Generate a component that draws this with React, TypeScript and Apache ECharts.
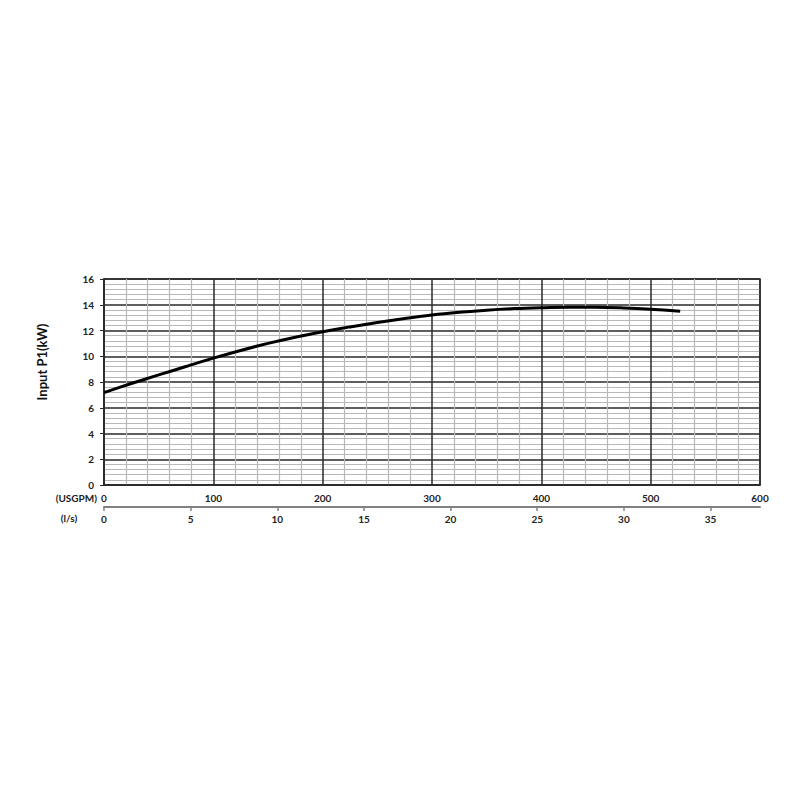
import React, { useEffect, useRef } from "react";
import * as echarts from "echarts";

const flowUSGPM = [0, 25, 50, 75, 100, 125, 150, 175, 200, 225, 250, 275, 300, 325, 350, 375, 400, 425, 450, 475, 500, 527];
const powerKW = [7.18, 7.88, 8.55, 9.2, 9.85, 10.45, 11.0, 11.48, 11.9, 12.28, 12.62, 12.93, 13.2, 13.41, 13.58, 13.7, 13.77, 13.81, 13.81, 13.75, 13.65, 13.5];
const lsTicks = [0, 5, 10, 15, 20, 25, 30, 35];
const USGPM_PER_LS = 15.8503;
const yTitle = "Input P1(kW)";
const unitTop = "(USGPM)";
const unitBottom = "(l/s)";

const FONT = "Lato, 'Open Sans', 'Liberation Sans', sans-serif";

export default function App() {
  const ref = useRef<HTMLDivElement>(null);
  useEffect(() => {
    document.body.style.margin = "0";
    const chart = echarts.init(ref.current!, null, { renderer: "svg" });
    const data = flowUSGPM.map((q, i) => [q, powerKW[i]]);
    chart.setOption({
      animation: false,
      backgroundColor: "#ffffff",
      textStyle: { fontFamily: FONT },
      grid: {
        left: 104,
        right: 40,
        top: 279,
        bottom: 315,
        show: true,
        borderColor: "#2a2a2a",
        borderWidth: 1.5,
      },
      xAxis: [
        {
          type: "value",
          position: "bottom",
          min: 0,
          max: 600,
          interval: 100,
          axisLine: { show: true, lineStyle: { color: "#2a2a2a", width: 1.5 } },
          axisTick: { show: false },
          axisLabel: { margin: 8, fontSize: 10, fontWeight: "bold", color: "#222", fontFamily: FONT },
          splitLine: { show: true, lineStyle: { color: "#2a2a2a", width: 1.5 } },
          minorTick: { show: false, splitNumber: 5 },
          minorSplitLine: { show: true, lineStyle: { color: "#b8b8b8", width: 1.2 } },
        },
        {
          type: "value",
          position: "bottom",
          offset: 22,
          min: 0,
          max: 600 / USGPM_PER_LS,
          axisLine: { show: true, lineStyle: { color: "#808080", width: 2 } },
          axisTick: { show: true, length: 4, customValues: lsTicks, lineStyle: { color: "#808080", width: 1.5 } },
          axisLabel: {
            margin: 7,
            fontSize: 10,
            fontWeight: "bold",
            color: "#222",
            fontFamily: FONT,
            customValues: lsTicks,
          },
          splitLine: { show: false },
        },
      ],
      yAxis: {
        type: "value",
        min: 0,
        max: 16,
        interval: 2,
        axisLine: { show: true, lineStyle: { color: "#2a2a2a", width: 1.5 } },
        axisTick: { show: true, length: 4, lineStyle: { color: "#2a2a2a" } },
        axisLabel: { margin: 10, fontSize: 10, fontWeight: "bold", color: "#222", fontFamily: FONT },
        splitLine: { show: true, lineStyle: { color: "#2a2a2a", width: 1.5 } },
        minorTick: { show: false, splitNumber: 5 },
        minorSplitLine: { show: true, lineStyle: { color: "#b8b8b8", width: 1.2 } },
      },
      graphic: [
        {
          type: "text",
          x: 42,
          y: 362,
          rotation: Math.PI / 2,
          style: {
            text: yTitle,
            align: "center",
            verticalAlign: "middle",
            fontSize: 13,
            fontWeight: "bold",
            fill: "#111",
            fontFamily: FONT,
          },
        },
        {
          type: "text",
          x: 97,
          y: 498,
          style: {
            text: unitTop,
            align: "right",
            verticalAlign: "middle",
            fontSize: 10,
            fontWeight: "bold",
            fill: "#222",
            fontFamily: FONT,
          },
        },
        {
          type: "text",
          x: 69,
          y: 518,
          style: {
            text: unitBottom,
            align: "center",
            verticalAlign: "middle",
            fontSize: 10,
            fontWeight: "bold",
            fill: "#222",
            fontFamily: FONT,
          },
        },
      ],
      series: [
        {
          type: "line",
          xAxisIndex: 0,
          data,
          smooth: 0.3,
          showSymbol: false,
          lineStyle: { color: "#000", width: 3 },
          z: 5,
        },
      ],
    });
    return () => chart.dispose();
  }, []);
  return <div ref={ref} style={{ width: 800, height: 800 }} />;
}
